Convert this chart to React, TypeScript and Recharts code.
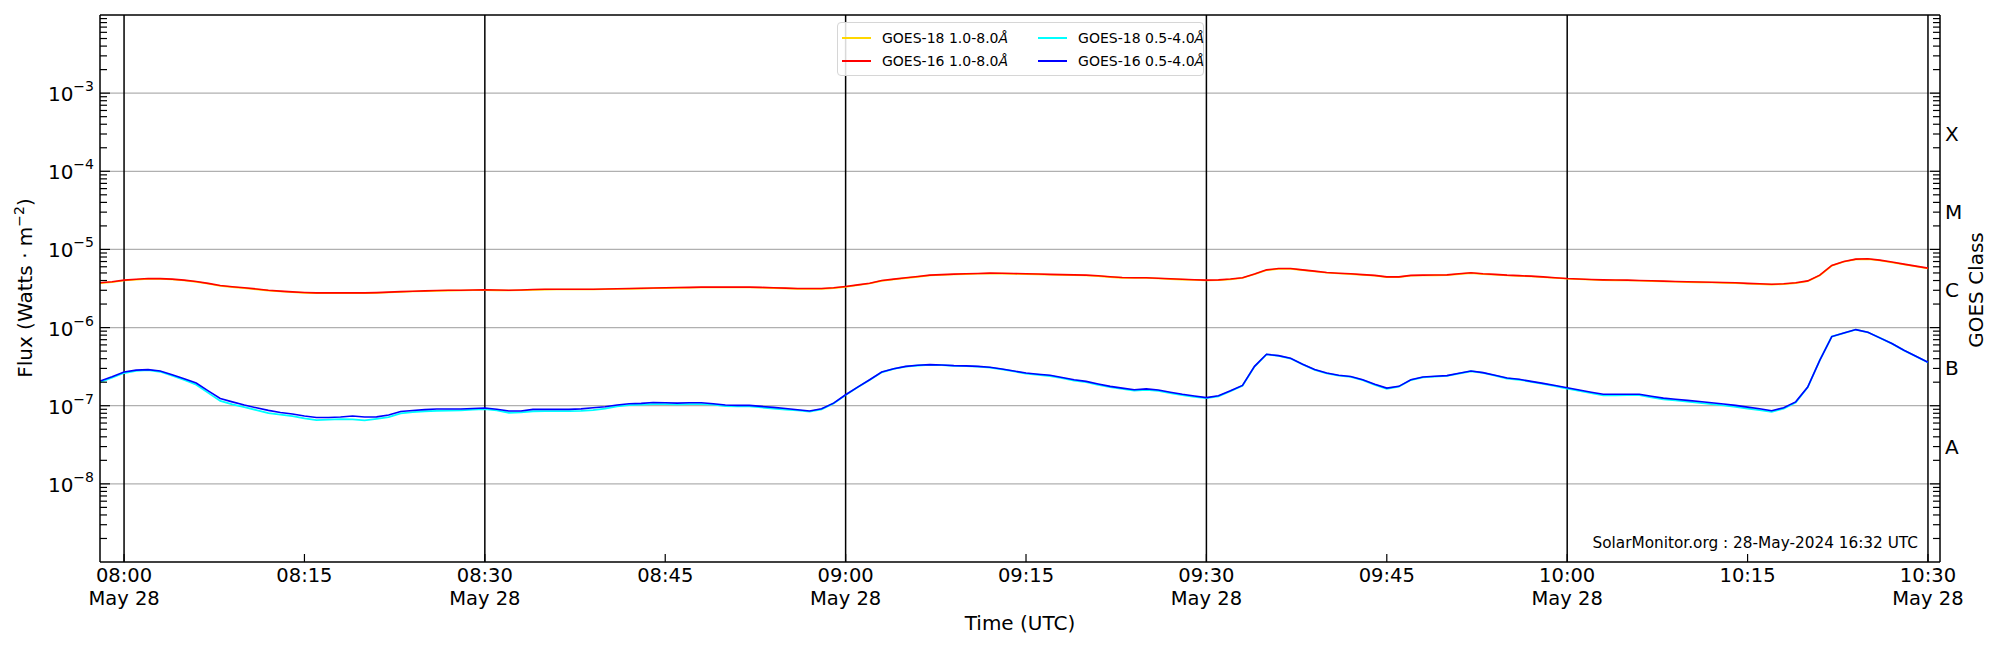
import React from "react"
import { LineChart, Line, XAxis, YAxis, ReferenceLine, Legend } from "recharts"

const FONT = "DejaVu Sans, Verdana, sans-serif"

// one sample per minute, starting 07:58 (t = -2 min from 08:00) up to 10:30
const START_MIN = -2

// GOES-18 1.0-8.0 A (x 1e-6 W/m2) - hidden under GOES-16
const goes18Long = [
  3.70, 3.81, 4.00, 4.10, 4.20, 4.18, 4.12, 4.00, 3.84, 3.63,
  3.41, 3.29, 3.19, 3.08, 2.97, 2.89, 2.83, 2.78, 2.75, 2.75,
  2.75, 2.75, 2.75, 2.77, 2.81, 2.85, 2.89, 2.92, 2.95, 2.97,
  2.98, 3.00, 3.01, 2.99, 2.98, 3.00, 3.04, 3.06, 3.07, 3.07,
  3.07, 3.07, 3.09, 3.11, 3.13, 3.15, 3.18, 3.20, 3.22, 3.24,
  3.26, 3.26, 3.26, 3.26, 3.26, 3.24, 3.20, 3.17, 3.13, 3.13,
  3.13, 3.20, 3.32, 3.48, 3.66, 3.96, 4.12, 4.29, 4.45, 4.64,
  4.71, 4.78, 4.83, 4.88, 4.92, 4.90, 4.87, 4.83, 4.79, 4.75,
  4.71, 4.67, 4.64, 4.55, 4.42, 4.33, 4.31, 4.30, 4.24, 4.17,
  4.11, 4.06, 4.01, 4.04, 4.14, 4.30, 4.80, 5.42, 5.64, 5.64,
  5.43, 5.23, 5.02, 4.91, 4.83, 4.71, 4.60, 4.42, 4.42, 4.60,
  4.64, 4.66, 4.68, 4.83, 4.97, 4.83, 4.75, 4.64, 4.57, 4.50,
  4.40, 4.31, 4.21, 4.15, 4.09, 4.04, 4.02, 4.01, 3.97, 3.93,
  3.89, 3.85, 3.81, 3.79, 3.77, 3.73, 3.70, 3.64, 3.59, 3.55,
  3.59, 3.70, 3.92, 4.64, 6.18, 6.95, 7.45, 7.52, 7.23, 6.82,
  6.43, 6.05, 5.71,
]

// GOES-16 1.0-8.0 A (x 1e-6)
const goes16Long = [
  3.74, 3.85, 4.05, 4.15, 4.25, 4.23, 4.17, 4.05, 3.89, 3.68,
  3.45, 3.33, 3.23, 3.12, 3.01, 2.93, 2.86, 2.81, 2.78, 2.78,
  2.78, 2.78, 2.78, 2.80, 2.84, 2.88, 2.92, 2.95, 2.98, 3.00,
  3.01, 3.03, 3.04, 3.02, 3.01, 3.03, 3.07, 3.09, 3.10, 3.10,
  3.10, 3.10, 3.12, 3.14, 3.16, 3.18, 3.21, 3.23, 3.25, 3.27,
  3.29, 3.29, 3.29, 3.29, 3.29, 3.27, 3.23, 3.20, 3.16, 3.16,
  3.16, 3.23, 3.36, 3.52, 3.70, 4.01, 4.17, 4.34, 4.50, 4.69,
  4.76, 4.83, 4.88, 4.93, 4.97, 4.95, 4.92, 4.88, 4.84, 4.80,
  4.76, 4.72, 4.69, 4.60, 4.47, 4.37, 4.35, 4.34, 4.28, 4.21,
  4.15, 4.10, 4.05, 4.08, 4.18, 4.34, 4.85, 5.48, 5.70, 5.70,
  5.48, 5.28, 5.07, 4.96, 4.88, 4.76, 4.65, 4.46, 4.46, 4.65,
  4.69, 4.71, 4.73, 4.88, 5.02, 4.88, 4.80, 4.69, 4.62, 4.55,
  4.45, 4.35, 4.25, 4.19, 4.13, 4.08, 4.06, 4.05, 4.01, 3.97,
  3.93, 3.89, 3.85, 3.83, 3.81, 3.77, 3.74, 3.68, 3.63, 3.59,
  3.63, 3.74, 3.96, 4.69, 6.24, 7.02, 7.52, 7.59, 7.30, 6.89,
  6.49, 6.11, 5.77,
]

// GOES-18 0.5-4.0 A (x 1e-7)
const goes18Short = [
  2.00, 2.28, 2.62, 2.80, 2.85, 2.72, 2.42, 2.14, 1.86, 1.46,
  1.15, 1.04, 0.96, 0.88, 0.805, 0.77, 0.738, 0.69, 0.655, 0.665,
  0.675, 0.67, 0.649, 0.68, 0.716, 0.80, 0.829, 0.85, 0.86, 0.865,
  0.871, 0.89, 0.906, 0.87, 0.813, 0.82, 0.85, 0.855, 0.855, 0.855,
  0.86, 0.88, 0.92, 0.98, 1.02, 1.03, 1.05, 1.05, 1.04, 1.05,
  1.05, 1.03, 0.99, 0.98, 0.98, 0.95, 0.92, 0.89, 0.87, 0.84,
  0.90, 1.07, 1.37, 1.72, 2.14, 2.68, 2.96, 3.17, 3.27, 3.34,
  3.30, 3.24, 3.21, 3.17, 3.07, 2.92, 2.75, 2.58, 2.49, 2.40,
  2.25, 2.10, 2.00, 1.85, 1.73, 1.64, 1.56, 1.60, 1.55, 1.45,
  1.37, 1.30, 1.25, 1.32, 1.53, 1.80, 3.17, 4.53, 4.35, 4.02,
  3.38, 2.88, 2.60, 2.43, 2.34, 2.13, 1.85, 1.65, 1.75, 2.13,
  2.31, 2.36, 2.41, 2.58, 2.76, 2.63, 2.42, 2.23, 2.15, 2.02,
  1.90, 1.78, 1.66, 1.55, 1.45, 1.36, 1.36, 1.37, 1.37, 1.28,
  1.21, 1.17, 1.13, 1.09, 1.05, 1.01, 0.97, 0.92, 0.88, 0.835,
  0.92, 1.10, 1.72, 3.80, 7.66, 8.49, 9.40, 8.70, 7.37, 6.23,
  5.11, 4.28, 3.59,
]

// GOES-16 0.5-4.0 A (x 1e-7)
const goes16Short = [
  2.07, 2.35, 2.70, 2.85, 2.90, 2.78, 2.49, 2.22, 1.95, 1.55,
  1.24, 1.12, 1.02, 0.94, 0.871, 0.82, 0.782, 0.74, 0.708, 0.708,
  0.716, 0.738, 0.716, 0.72, 0.759, 0.845, 0.87, 0.89, 0.906, 0.906,
  0.906, 0.92, 0.933, 0.90, 0.855, 0.855, 0.897, 0.897, 0.897, 0.897,
  0.91, 0.94, 0.97, 1.02, 1.06, 1.07, 1.10, 1.09, 1.08, 1.09,
  1.09, 1.06, 1.02, 1.01, 1.01, 0.98, 0.953, 0.92, 0.889, 0.855,
  0.916, 1.08, 1.38, 1.73, 2.15, 2.70, 2.98, 3.19, 3.29, 3.36,
  3.32, 3.26, 3.23, 3.19, 3.10, 2.95, 2.78, 2.62, 2.53, 2.45,
  2.30, 2.15, 2.05, 1.90, 1.77, 1.68, 1.60, 1.64, 1.59, 1.49,
  1.40, 1.33, 1.27, 1.34, 1.55, 1.82, 3.19, 4.55, 4.37, 4.04,
  3.39, 2.90, 2.62, 2.45, 2.36, 2.15, 1.88, 1.68, 1.77, 2.15,
  2.33, 2.38, 2.43, 2.60, 2.78, 2.65, 2.45, 2.26, 2.18, 2.05,
  1.93, 1.81, 1.70, 1.59, 1.49, 1.40, 1.40, 1.40, 1.40, 1.32,
  1.25, 1.21, 1.17, 1.13, 1.09, 1.05, 1.01, 0.96, 0.916, 0.863,
  0.942, 1.12, 1.73, 3.81, 7.67, 8.50, 9.42, 8.71, 7.38, 6.24,
  5.12, 4.29, 3.60,
]

// x ticks, minutes after 08:00
const timeTicks = [0, 15, 30, 45, 60, 75, 90, 105, 120, 135, 150]
const timeLabels = ["08:00", "08:15", "08:30", "08:45", "09:00", "09:15", "09:30", "09:45", "10:00", "10:15", "10:30"]
const dayLines = [0, 30, 60, 90, 120, 150]
const dateLabel = "May 28"

const decadeTicks = [1e-8, 1e-7, 1e-6, 1e-5, 1e-4, 1e-3]
const decadeExps = ["−8", "−7", "−6", "−5", "−4", "−3"]
const classTicks = [3e-8, 3e-7, 3e-6, 3e-5, 3e-4]
const classLabels = ["A", "B", "C", "M", "X"]

const legendItems = [
  { name: "GOES-18 1.0-8.0", color: "#ffd700" },
  { name: "GOES-18 0.5-4.0", color: "#00ffff" },
  { name: "GOES-16 1.0-8.0", color: "#ff0000" },
  { name: "GOES-16 0.5-4.0", color: "#0000ff" },
]

// log minor ticks 2..9 x 10^k plus decades
const logTicks: number[] = []
for (let k = -9; k <= -3; k++) {
  for (let m = 1; m <= 9; m++) {
    const v = Number((m * Math.pow(10, k)).toPrecision(3))
    if (v > 1e-9 && v < 1e-2) logTicks.push(v)
  }
}

const isDecade = (v: number) => Math.abs(Math.log10(v) - Math.round(Math.log10(v))) < 1e-6

const data = goes16Long.map((_, i) => ({
  t: START_MIN + i,
  g18l: goes18Long[i] * 1e-6,
  g16l: goes16Long[i] * 1e-6,
  g18s: goes18Short[i] * 1e-7,
  g16s: goes16Short[i] * 1e-7,
}))

const LeftTick = (props: any) => {
  const { x, y, payload } = props
  const v = payload.value
  const major = isDecade(v)
  const idx = decadeTicks.findIndex((d) => Math.abs(d - v) / d < 1e-6)
  return (
    <g>
      <line x1={x} x2={x + (major ? 10 : 7)} y1={y} y2={y} stroke="#000" strokeWidth={1.2} />
      {idx >= 0 && (
        <text x={x - 6} y={y + 8} textAnchor="end" fontFamily={FONT} fontSize={20} fill="#000">
          10
          <tspan dy={-10} fontSize={14}>{decadeExps[idx]}</tspan>
        </text>
      )}
    </g>
  )
}

const RightTick = (props: any) => {
  const { x, y, payload } = props
  const v = payload.value
  const major = isDecade(v)
  const idx = classTicks.findIndex((d) => Math.abs(d - v) / d < 1e-6)
  return (
    <g>
      <line x1={x} x2={x - (major ? 10 : 7)} y1={y} y2={y} stroke="#000" strokeWidth={1.2} />
      {idx >= 0 && (
        <text x={x + 5} y={y + 7} textAnchor="start" fontFamily={FONT} fontSize={20} fill="#000">
          {classLabels[idx]}
        </text>
      )}
    </g>
  )
}

const TimeTick = (props: any) => {
  const { x, y, payload } = props
  const i = timeTicks.indexOf(payload.value)
  const onDay = dayLines.includes(payload.value)
  return (
    <g>
      <line x1={x} x2={x} y1={y} y2={y - 8} stroke="#000" strokeWidth={1.2} />
      <text x={x} y={y + 20} textAnchor="middle" fontFamily={FONT} fontSize={19.5} fill="#000">
        {timeLabels[i]}
      </text>
      {onDay && (
        <text x={x} y={y + 43} textAnchor="middle" fontFamily={FONT} fontSize={19.5} fill="#000">
          {dateLabel}
        </text>
      )}
    </g>
  )
}

const LegendBox = () => (
  <div
    style={{
      border: "1px solid #d6d6d6",
      borderRadius: 4,
      background: "rgba(255,255,255,0.85)",
      padding: "5px 6px 4px 4px",
      display: "grid",
      gridTemplateColumns: "auto auto",
      columnGap: 30,
      rowGap: 3,
      fontFamily: FONT,
      fontSize: 14,
      color: "#000",
      width: 355,
    }}
  >
    {legendItems.map((it) => (
      <div key={it.name} style={{ display: "flex", alignItems: "center", height: 20, whiteSpace: "nowrap" }}>
        <div style={{ width: 29, height: 1.2, background: it.color, marginRight: 11 }} />
        <span>
          {it.name}
          <span style={{ fontStyle: "italic" }}>Å</span>
        </span>
      </div>
    ))}
  </div>
)

export default function App() {
  return (
    <div style={{ position: "absolute", left: 0, top: 0, width: 2000, height: 650, background: "#fff" }}>
      <LineChart width={2000} height={650} data={data} margin={{ top: 15, right: 0, bottom: 0, left: 0 }}>
        <XAxis
          dataKey="t"
          type="number"
          domain={[-2, 151]}
          allowDataOverflow
          ticks={timeTicks}
          interval={0}
          height={88}
          tickSize={0}
          tickMargin={0}
          tickLine={false}
          axisLine={{ stroke: "#000", strokeWidth: 1.5 }}
          tick={<TimeTick />}
        />
        <YAxis
          yAxisId="left"
          scale="log"
          domain={[1e-9, 1e-2]}
          allowDataOverflow
          ticks={logTicks}
          interval={0}
          width={100}
          tickSize={0}
          tickMargin={0}
          tickLine={false}
          axisLine={{ stroke: "#000", strokeWidth: 1.5 }}
          tick={<LeftTick />}
        />
        <YAxis
          yAxisId="right"
          orientation="right"
          scale="log"
          domain={[1e-9, 1e-2]}
          allowDataOverflow
          ticks={logTicks}
          interval={0}
          width={60}
          tickSize={0}
          tickMargin={0}
          tickLine={false}
          axisLine={{ stroke: "#000", strokeWidth: 1.5 }}
          tick={<RightTick />}
        />
        {decadeTicks.map((v) => (
          <ReferenceLine key={"g" + v} yAxisId="left" y={v} stroke="#b0b0b0" strokeWidth={1.2} />
        ))}
        <ReferenceLine yAxisId="left" y={1e-2} stroke="#000" strokeWidth={1.5} />
        {dayLines.map((v) => (
          <ReferenceLine key={"d" + v} yAxisId="left" x={v} stroke="#000" strokeWidth={1.5} />
        ))}
        <Line yAxisId="left" type="linear" dataKey="g18l" name="GOES-18 1.0-8.0" stroke="#ffd700" strokeWidth={1.6} dot={false} isAnimationActive={false} />
        <Line yAxisId="left" type="linear" dataKey="g16l" name="GOES-16 1.0-8.0" stroke="#ff0000" strokeWidth={1.6} dot={false} isAnimationActive={false} />
        <Line yAxisId="left" type="linear" dataKey="g18s" name="GOES-18 0.5-4.0" stroke="#00ffff" strokeWidth={1.8} dot={false} isAnimationActive={false} />
        <Line yAxisId="left" type="linear" dataKey="g16s" name="GOES-16 0.5-4.0" stroke="#0000ff" strokeWidth={1.6} dot={false} isAnimationActive={false} />
        <Legend
          layout="horizontal"
          verticalAlign="middle"
          align="center"
          content={<LegendBox />}
          wrapperStyle={{ position: "absolute", left: 837, top: 22, width: "auto" }}
        />
      </LineChart>
      <div
        style={{
          position: "absolute",
          left: 25,
          top: 288,
          transform: "translate(-50%, -50%) rotate(-90deg)",
          fontFamily: FONT,
          fontSize: 20,
          whiteSpace: "nowrap",
          color: "#000",
        }}
      >
        Flux (Watts · m<sup style={{ fontSize: 14, lineHeight: 0 }}>−2</sup>)
      </div>
      <div
        style={{
          position: "absolute",
          left: 1976,
          top: 290,
          transform: "translate(-50%, -50%) rotate(-90deg)",
          fontFamily: FONT,
          fontSize: 20,
          whiteSpace: "nowrap",
          color: "#000",
        }}
      >
        GOES Class
      </div>
      <div
        style={{
          position: "absolute",
          left: 1020,
          top: 613,
          transform: "translateX(-50%)",
          fontFamily: FONT,
          fontSize: 20,
          lineHeight: 1,
          whiteSpace: "nowrap",
          color: "#000",
        }}
      >
        Time (UTC)
      </div>
      <div
        style={{
          position: "absolute",
          right: 82,
          top: 536,
          fontFamily: FONT,
          fontSize: 15.3,
          lineHeight: 1,
          whiteSpace: "nowrap",
          color: "#000",
        }}
      >
        SolarMonitor.org : 28-May-2024 16:32 UTC
      </div>
    </div>
  )
}
